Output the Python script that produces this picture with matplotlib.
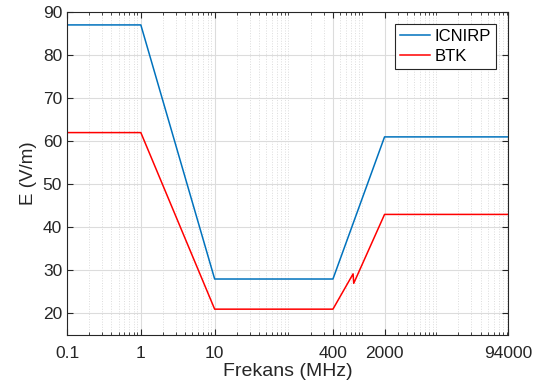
import matplotlib
matplotlib.use("Agg")
import matplotlib.pyplot as plt
from matplotlib.ticker import FixedLocator, LogLocator, NullFormatter, FixedFormatter

plt.rcParams['font.family'] = ['Liberation Sans', 'DejaVu Sans']

icnirp_f = [0.1, 1, 10, 400, 2000, 94000]
icnirp_e = [87, 87, 28, 28, 61, 61]
btk_f = [0.1, 1, 10, 400, 750, 765, 2000, 94000]
btk_e = [62, 62, 21, 21, 29.2, 27.0, 43, 43]
xticks = [0.1, 1, 10, 400, 2000, 94000]
xticklabels = ['0.1', '1', '10', '400', '2000', '94000']
yticks = [20, 30, 40, 50, 60, 70, 80, 90]

fig = plt.figure(figsize=(5.4, 3.92), dpi=100)
ax = fig.add_axes([67/540, 57/392, 441/540, 323/392])

ax.plot(icnirp_f, icnirp_e, color='#0072BD', lw=1.1, label='ICNIRP')
ax.plot(btk_f, btk_e, color='#FF0000', lw=1.1, label='BTK')

ax.set_xscale('log')
ax.set_xlim(0.1, 94000)
ax.set_ylim(15, 90)
ax.xaxis.set_major_locator(FixedLocator(xticks))
ax.xaxis.set_major_formatter(FixedFormatter(xticklabels))
ax.xaxis.set_minor_locator(LogLocator(base=10, subs=range(1, 10), numticks=30))
ax.xaxis.set_minor_formatter(NullFormatter())
ax.set_yticks(yticks)

ax.grid(True, which='major', color='#dcdcdc', lw=0.8, ls='-')
ax.grid(True, which='minor', axis='x', color='#dcdcdc', lw=0.7, ls=':')
ax.set_axisbelow(True)

ax.tick_params(which='both', direction='in', top=True, right=True, colors='#262626',
               labelsize=12.5, length=4)
ax.tick_params(which='minor', length=2)
ax.tick_params(axis='x', pad=8)
for s in ax.spines.values():
    s.set_color('#262626')
    s.set_linewidth(0.8)

ax.set_xlabel('Frekans (MHz)', fontsize=14, color='#262626', labelpad=1)
ax.set_ylabel('E (V/m)', fontsize=13.5, color='#262626', labelpad=4)

leg = ax.legend(loc='upper right', fontsize=12, fancybox=False, framealpha=1,
                edgecolor='#262626', borderaxespad=0.72, handlelength=1.85,
                handletextpad=0.25, labelspacing=0.3, borderpad=0.3)
leg.get_frame().set_linewidth(0.8)

fig.savefig('out.png', dpi=100)
